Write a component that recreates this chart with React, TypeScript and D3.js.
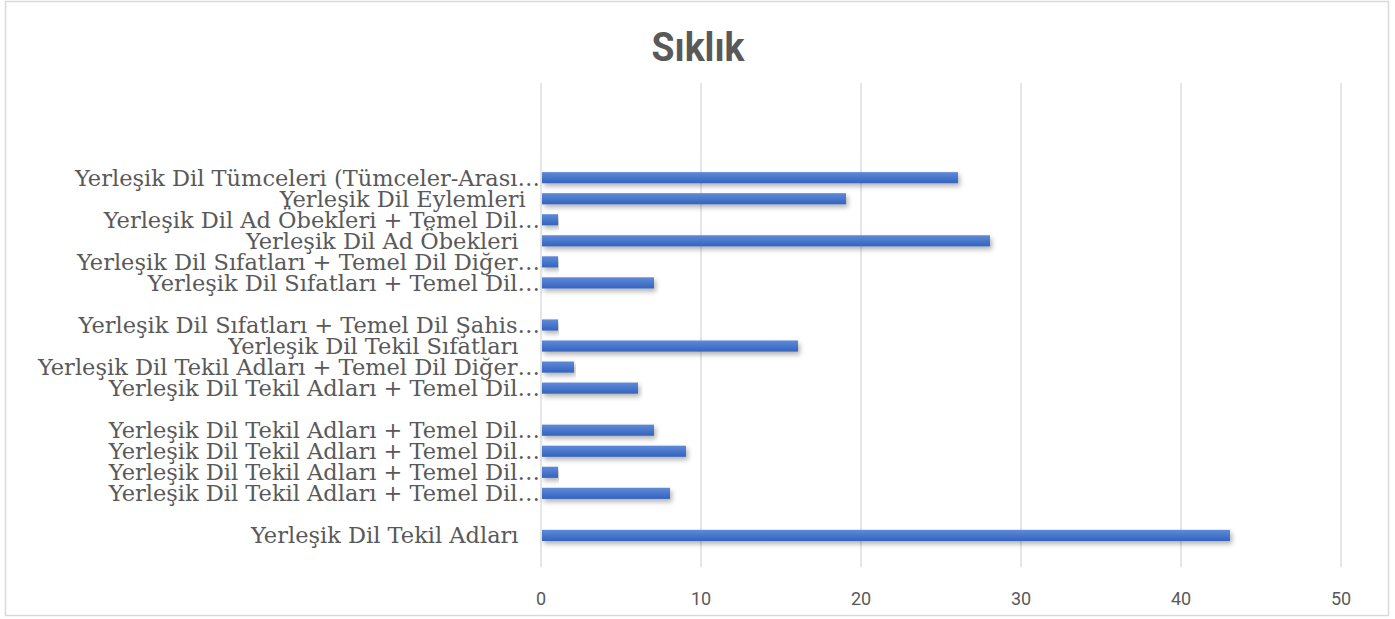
import React, { useEffect, useRef } from 'react';
import * as d3 from 'd3';

// categories top to bottom, blank rows kept as empty strings
const categories: string[] = [
  '', '', '', '',
  'Yerleşik Dil Tümceleri (Tümceler-Arası…',
  'Yerleşik Dil Eylemleri  ',
  'Yerleşik Dil Ad Öbekleri + Temel Dil…',
  'Yerleşik Dil Ad Öbekleri   ',
  'Yerleşik Dil Sıfatları + Temel Dil Diğer…',
  'Yerleşik Dil Sıfatları + Temel Dil…',
  '',
  'Yerleşik Dil Sıfatları + Temel Dil Şahis…',
  'Yerleşik Dil Tekil Sıfatları   ',
  'Yerleşik Dil Tekil Adları + Temel Dil Diğer…',
  'Yerleşik Dil Tekil Adları + Temel Dil…',
  '',
  'Yerleşik Dil Tekil Adları + Temel Dil…',
  'Yerleşik Dil Tekil Adları + Temel Dil…',
  'Yerleşik Dil Tekil Adları + Temel Dil…',
  'Yerleşik Dil Tekil Adları + Temel Dil…',
  '',
  'Yerleşik Dil Tekil Adları   ',
  '',
];

const values: (number | null)[] = [
  null, null, null, null,
  26, 19, 1, 28, 1, 7,
  null,
  1, 16, 2, 6,
  null,
  7, 9, 1, 8,
  null,
  43,
  null,
];

const xTicks = [0, 10, 20, 30, 40, 50];
const title = 'Sıklık';

const WIDTH = 1395;
const HEIGHT = 619;

const App: React.FC = () => {
  const svgRef = useRef<SVGSVGElement>(null);

  useEffect(() => {
    document.body.style.margin = '0';
    if (!svgRef.current) return;
    const svg = d3.select(svgRef.current);
    svg.selectAll('*').remove();

    const margin = { top: 83, right: 54, bottom: 52, left: 541 };
    const innerW = WIDTH - margin.left - margin.right;
    const innerH = HEIGHT - margin.top - margin.bottom;

    const defs = svg.append('defs');
    const grad = defs.append('linearGradient')
      .attr('id', 'barGrad')
      .attr('x1', 0).attr('y1', 0).attr('x2', 0).attr('y2', 1);
    grad.append('stop').attr('offset', '0%').attr('stop-color', '#5f8ad8');
    grad.append('stop').attr('offset', '100%').attr('stop-color', '#3463be');

    const shadow = defs.append('filter')
      .attr('id', 'barShadow')
      .attr('x', '-5%').attr('y', '-50%').attr('width', '110%').attr('height', '250%');
    shadow.append('feDropShadow')
      .attr('dx', 2).attr('dy', 3).attr('stdDeviation', 2.5)
      .attr('flood-color', '#000').attr('flood-opacity', 0.3);

    // chart border
    svg.append('rect')
      .attr('x', 5.5).attr('y', 1.5)
      .attr('width', 1383).attr('height', 614)
      .attr('fill', '#fff')
      .attr('stroke', '#d9d9d9')
      .attr('stroke-width', 1.5);

    svg.append('text')
      .attr('x', 698)
      .attr('y', 61)
      .attr('text-anchor', 'middle')
      .attr('font-family', 'Roboto, sans-serif')
      .attr('font-weight', 'bold')
      .attr('font-size', 40)
      .attr('fill', '#595959')
      .attr('textLength', 93)
      .attr('lengthAdjust', 'spacingAndGlyphs')
      .text(title);

    const x = d3.scaleLinear().domain([0, 50]).range([0, innerW]);
    const y = d3.scaleBand<number>()
      .domain(categories.map((_, i) => i))
      .range([0, innerH])
      .paddingInner(0.47)
      .paddingOuter(0.235);

    const g = svg.append('g').attr('transform', `translate(${margin.left},${margin.top})`);

    // gridlines
    g.selectAll('line.grid')
      .data(xTicks)
      .enter()
      .append('line')
      .attr('class', 'grid')
      .attr('x1', d => x(d)).attr('x2', d => x(d))
      .attr('y1', 0).attr('y2', innerH)
      .attr('stroke', '#d9d9d9')
      .attr('stroke-width', 1.3);

    // tick labels
    g.selectAll('text.tick')
      .data(xTicks)
      .enter()
      .append('text')
      .attr('class', 'tick')
      .attr('x', d => x(d))
      .attr('y', innerH + 31)
      .attr('text-anchor', 'middle')
      .attr('dominant-baseline', 'central')
      .attr('font-family', 'Roboto, sans-serif')
      .attr('font-size', 18)
      .attr('fill', '#595959')
      .text(d => String(d));

    const rows = categories.map((c, i) => ({ i, label: c, value: values[i] }));

    // bars
    g.selectAll('rect.bar')
      .data(rows.filter(r => r.value !== null))
      .enter()
      .append('rect')
      .attr('class', 'bar')
      .attr('x', x(0) + 1)
      .attr('y', d => y(d.i) as number)
      .attr('width', d => x(d.value as number) - x(0))
      .attr('height', y.bandwidth())
      .attr('fill', 'url(#barGrad)')
      .attr('filter', 'url(#barShadow)');

    // category labels
    g.selectAll('text.cat')
      .data(rows.filter(r => r.label !== ''))
      .enter()
      .append('text')
      .attr('class', 'cat')
      .attr('x', -1)
      .attr('y', d => (y(d.i) as number) + y.bandwidth() / 2)
      .attr('text-anchor', 'end')
      .attr('dominant-baseline', 'central')
      .attr('font-family', '"DejaVu Serif", serif')
      .attr('font-size', 22.5)
      .attr('fill', '#595959')
      .style('white-space', 'pre')
      .text(d => d.label);
  }, []);

  return <svg ref={svgRef} width={WIDTH} height={HEIGHT} style={{ display: 'block' }} />;
};

export default App;
